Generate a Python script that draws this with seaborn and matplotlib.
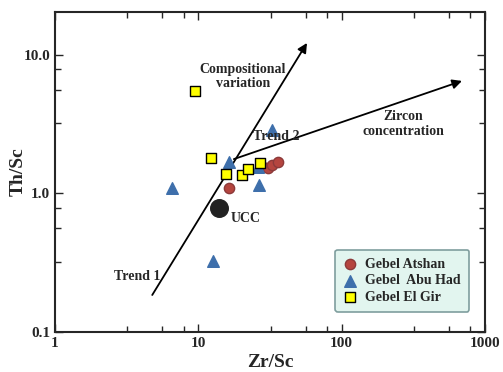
import numpy as np
import pandas as pd
import matplotlib
matplotlib.use("Agg")
import matplotlib.pyplot as plt
from matplotlib.ticker import FixedLocator, NullFormatter
import seaborn as sns

# ---------------------------
# DATA
# ---------------------------
atshan_zr_sc = [16.4, 28.3, 30.6, 32.7, 36.0]
atshan_th_sc = [1.10, 1.55, 1.53, 1.61, 1.69]

abuhad_zr_sc = [6.55, 12.6, 16.4, 26.1, 26.5, 32.7]
abuhad_th_sc = [1.09, 0.327, 1.69, 1.55, 1.16, 2.87]

elgir_zr_sc = [9.52, 12.2, 15.5, 20.1, 22.1, 27.1]
elgir_th_sc = [5.5, 1.81, 1.376, 1.36, 1.51, 1.66]

ucc_zr_sc = [13.9]
ucc_th_sc = [0.78]

groups = ["Gebel Atshan", "Gebel  Abu Had", "Gebel El Gir"]

trend1_start = (4.77, 0.185)
trend1_end = (57.3, 12.2)
trend2_start = (17.7, 1.77)
trend2_end = (691, 6.49)

df = pd.concat([
    pd.DataFrame({"Zr/Sc": atshan_zr_sc, "Th/Sc": atshan_th_sc, "group": groups[0]}),
    pd.DataFrame({"Zr/Sc": abuhad_zr_sc, "Th/Sc": abuhad_th_sc, "group": groups[1]}),
    pd.DataFrame({"Zr/Sc": elgir_zr_sc, "Th/Sc": elgir_th_sc, "group": groups[2]}),
], ignore_index=True)

# ---------------------------
# STYLE
# ---------------------------
sns.set_style("ticks")
plt.rcParams["font.family"] = ["Liberation Serif", "DejaVu Serif"]
plt.rcParams["font.weight"] = "bold"

fig = plt.figure(figsize=(5.03, 3.72), dpi=100)
ax = fig.add_axes([0.1093, 0.1075, 0.8549, 0.8602])

ax.set_xscale("log")
ax.set_yscale("log")
ax.set_xlim(1, 1000)
ax.set_ylim(0.1, 20.4)

# trend arrows
ax.annotate("", xy=trend1_end, xytext=trend1_start,
            arrowprops=dict(arrowstyle="-|>", color="black", lw=1.3,
                            mutation_scale=14, shrinkA=0, shrinkB=0))
ax.annotate("", xy=trend2_end, xytext=trend2_start,
            arrowprops=dict(arrowstyle="-|>", color="black", lw=1.3,
                            mutation_scale=14, shrinkA=0, shrinkB=0))

palette = {groups[0]: "#b5453f", groups[1]: "#3e6fab", groups[2]: "#ffff00"}
markers = {groups[0]: "o", groups[1]: "^", groups[2]: "s"}
sizes = {groups[0]: 55, groups[1]: 70, groups[2]: 45}
edges = {groups[0]: "#8c3a3a", groups[1]: "#3e6fab", groups[2]: "black"}

for g in groups:
    sub = df[df["group"] == g]
    sns.scatterplot(data=sub, x="Zr/Sc", y="Th/Sc", ax=ax, color=palette[g],
                    marker=markers[g], s=sizes[g], edgecolor=edges[g],
                    linewidth=1.0, label=g, zorder=3)

ax.scatter(ucc_zr_sc, ucc_th_sc, s=160, color="#222222", zorder=4)

# annotations
tkw = dict(fontsize=10, fontweight="bold", ha="center", va="center")
ax.text(16.8, 0.662, "UCC", fontsize=10, fontweight="bold", ha="left", va="center")
ax.text(3.72, 0.251, "Trend 1", **tkw)
ax.text(24.0, 2.57, "Trend 2", fontsize=10, fontweight="bold", ha="left", va="center")
ax.text(20.5, 7.0, "Compositional\nvariation", linespacing=1.15, **tkw)
ax.text(268.0, 3.16, "Zircon\nconcentration", linespacing=1.15, **tkw)

# axes formatting
ax.set_xlabel("Zr/Sc", fontsize=14, fontweight="bold", labelpad=3)
ax.set_ylabel("Th/Sc", fontsize=14, fontweight="bold", labelpad=-2.5)
ax.xaxis.set_major_locator(FixedLocator([1, 10, 100, 1000]))
ax.set_xticklabels(["1", "10", "100", "1000"])
ax.yaxis.set_major_locator(FixedLocator([0.1, 1, 10]))
ax.set_yticklabels(["0.1", "1.0", "10.0"])
minors = [3.2, 5.6, 7.9]
ax.xaxis.set_minor_locator(FixedLocator([m * d for d in [1, 10, 100] for m in minors]))
ax.yaxis.set_minor_locator(FixedLocator([m * d for d in [0.1, 1, 10] for m in minors if m * d < 20.4]))
ax.xaxis.set_minor_formatter(NullFormatter())
ax.yaxis.set_minor_formatter(NullFormatter())
ax.tick_params(which="both", direction="in", top=True, right=True, width=1.0, labelsize=11)
ax.tick_params(which="major", length=6)
ax.tick_params(which="minor", length=4)
for lbl in ax.get_xticklabels() + ax.get_yticklabels():
    lbl.set_fontweight("bold")
for sp in ax.spines.values():
    sp.set_linewidth(1.5)
    sp.set_visible(True)

leg = ax.legend(loc="lower right", bbox_to_anchor=(0.98, 0.04), fontsize=10,
                frameon=True, fancybox=True, facecolor="#e2f5ef", edgecolor="#7f9e9e",
                framealpha=1.0, handletextpad=0.6, borderpad=0.6, labelspacing=0.25,
                handlelength=1.0)
leg.get_frame().set_linewidth(1.2)
for t in leg.get_texts():
    t.set_fontweight("bold")

fig.savefig("out.png", dpi=100)
